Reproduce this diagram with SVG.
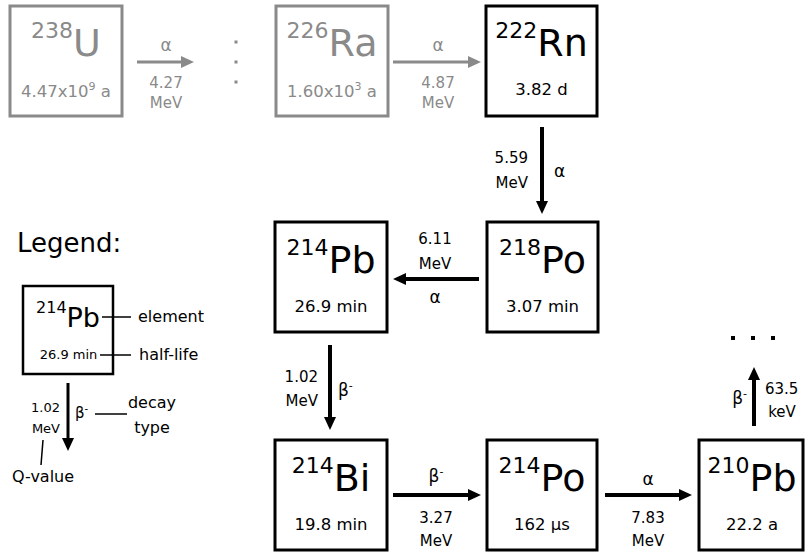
<svg xmlns="http://www.w3.org/2000/svg" width="805" height="554" viewBox="0 0 805 554">
<defs>
<style>
text{font-family:"DejaVu Sans","Liberation Sans",sans-serif;fill:#000}
.g{fill:#8a8a8a}
.box{fill:#fff;stroke:#000;stroke-width:3}
.gbox{fill:#fff;stroke:#8a8a8a;stroke-width:3}
.el{font-size:38px}
.sup{font-size:22px}
.hl{font-size:16.5px;text-anchor:middle}
.lab{font-size:15px;text-anchor:middle}
.lr{font-size:15px;text-anchor:end}
.ll{font-size:15px;text-anchor:start}
.al{font-size:17px}
.arr{stroke:#000;stroke-width:4;fill:none;marker-end:url(#ah)}
.garr{stroke:#8a8a8a;stroke-width:3;fill:none;marker-end:url(#gah)}
.thin{stroke:#000;stroke-width:1.5;fill:none}
.leg{font-size:16px}
</style>
<marker id="ah" viewBox="0 0 13 12" refX="4" refY="6" markerWidth="13" markerHeight="12" orient="auto" markerUnits="userSpaceOnUse"><path d="M0,0 L13,6 L0,12 z" fill="#000"/></marker>
<marker id="gah" viewBox="0 0 13 12" refX="4" refY="6" markerWidth="13" markerHeight="12" orient="auto" markerUnits="userSpaceOnUse"><path d="M0,0 L13,6 L0,12 z" fill="#8a8a8a"/></marker>
</defs>

<g id="U238">
<rect class="gbox" x="10" y="6" width="112" height="110"/>
<text class="g" x="66" y="56" text-anchor="middle"><tspan class="sup" dy="-18">238</tspan><tspan class="el" dy="18">U</tspan></text>
<text class="hl g" x="66" y="97">4.47x10<tspan font-size="11" dy="-7">9</tspan><tspan dy="7"> a</tspan></text>
</g>

<g id="Ra226">
<rect class="gbox" x="276" y="6" width="112" height="110"/>
<text class="g" x="332" y="56" text-anchor="middle"><tspan class="sup" dy="-18">226</tspan><tspan class="el" dy="18">Ra</tspan></text>
<text class="hl g" x="332" y="97">1.60x10<tspan font-size="11" dy="-7">3</tspan><tspan dy="7"> a</tspan></text>
</g>

<g id="Rn222">
<rect class="box" x="486" y="6" width="111" height="110"/>
<text x="541.5" y="56" text-anchor="middle"><tspan class="sup" dy="-18">222</tspan><tspan class="el" dy="18">Rn</tspan></text>
<text class="hl" x="541.5" y="95">3.82 d</text>
</g>

<g id="Po218">
<rect class="box" x="487" y="222" width="111" height="110"/>
<text x="542.5" y="273" text-anchor="middle"><tspan class="sup" dy="-18">218</tspan><tspan class="el" dy="18">Po</tspan></text>
<text class="hl" x="542.5" y="312">3.07 min</text>
</g>

<g id="Pb214">
<rect class="box" x="275" y="222" width="112" height="110"/>
<text x="331" y="273" text-anchor="middle"><tspan class="sup" dy="-18">214</tspan><tspan class="el" dy="18">Pb</tspan></text>
<text class="hl" x="331" y="312">26.9 min</text>
</g>

<g id="Bi214">
<rect class="box" x="275" y="440" width="112" height="110"/>
<text x="331" y="491" text-anchor="middle"><tspan class="sup" dy="-18">214</tspan><tspan class="el" dy="18">Bi</tspan></text>
<text class="hl" x="331" y="530">19.8 min</text>
</g>

<g id="Po214">
<rect class="box" x="487" y="440" width="110" height="110"/>
<text x="542" y="491" text-anchor="middle"><tspan class="sup" dy="-18">214</tspan><tspan class="el" dy="18">Po</tspan></text>
<text class="hl" x="542" y="530">162 μs</text>
</g>

<g id="Pb210">
<rect class="box" x="699" y="440" width="104" height="110"/>
<text x="752" y="491" text-anchor="middle"><tspan class="sup" dy="-18">210</tspan><tspan class="el" dy="18">Pb</tspan></text>
<text class="hl" x="752" y="530">22.2 a</text>
</g>

<g id="connectors">
<line class="garr" x1="137" y1="62" x2="185" y2="62"/>
<text class="lab al g" x="166" y="51">α</text>
<text class="lab g" x="166" y="88">4.27</text>
<text class="lab g" x="166" y="108">MeV</text>
<g fill="#8a8a8a"><rect x="234.5" y="40.5" width="3" height="3"/><rect x="234.5" y="60.5" width="3" height="3"/><rect x="234.5" y="80.5" width="3" height="3"/></g>

<line class="garr" x1="393" y1="62" x2="472" y2="62"/>
<text class="lab al g" x="438" y="51">α</text>
<text class="lab g" x="438" y="88">4.87</text>
<text class="lab g" x="438" y="108">MeV</text>

<line class="arr" x1="542" y1="127" x2="542" y2="205"/>
<text class="lr" x="528" y="163">5.59</text>
<text class="lr" x="528" y="188">MeV</text>
<text class="ll al" x="554" y="177">α</text>

<line class="arr" x1="479" y1="279" x2="402" y2="279"/>
<text class="lab" x="435" y="244">6.11</text>
<text class="lab" x="435" y="269">MeV</text>
<text class="lab al" x="435" y="303">α</text>

<line class="arr" x1="330" y1="345" x2="330" y2="421"/>
<text class="lr" x="318" y="382">1.02</text>
<text class="lr" x="318" y="406">MeV</text>
<text class="ll al" x="338" y="396">β<tspan font-size="11" dy="-7">-</tspan></text>

<line class="arr" x1="393" y1="495" x2="472" y2="495"/>
<text class="lab al" x="436" y="482">β<tspan font-size="11" dy="-7">-</tspan></text>
<text class="lab" x="436" y="523">3.27</text>
<text class="lab" x="436" y="546">MeV</text>

<line class="arr" x1="605" y1="495" x2="683" y2="495"/>
<text class="lab al" x="648" y="485">α</text>
<text class="lab" x="648" y="523">7.83</text>
<text class="lab" x="648" y="546">MeV</text>

<line class="arr" x1="754" y1="426" x2="754" y2="376"/>
<text class="lr al" x="747" y="404">β<tspan font-size="11" dy="-7">-</tspan></text>
<text class="ll" x="765" y="394">63.5</text>
<text class="lab" x="782" y="417">keV</text>
<g fill="#000"><rect x="731" y="336" width="4" height="4"/><rect x="751" y="336" width="4" height="4"/><rect x="771" y="336" width="4" height="4"/></g>
</g>

<g id="legend">
<text x="17" y="252" font-size="26">Legend:</text>
<rect x="23" y="286" width="90" height="88" fill="#fff" stroke="#000" stroke-width="2.5"/>
<text x="68" y="327" text-anchor="middle"><tspan font-size="16" dy="-14">214</tspan><tspan font-size="27" dy="14">Pb</tspan></text>
<text x="68.5" y="359" font-size="13" text-anchor="middle">26.9 min</text>
<line class="thin" x1="102" y1="317" x2="131" y2="317"/>
<text class="leg" x="138" y="322">element</text>
<line class="thin" x1="100" y1="355" x2="131" y2="355"/>
<text class="leg" x="139" y="360">half-life</text>
<line x1="68" y1="383" x2="68" y2="442" stroke="#000" stroke-width="3" marker-end="url(#ah)"/>
<text x="60" y="412" font-size="13" text-anchor="end">1.02</text>
<text x="60" y="433" font-size="13" text-anchor="end">MeV</text>
<text x="75" y="418" font-size="15">β<tspan font-size="10" dy="-6">-</tspan></text>
<line class="thin" x1="95" y1="414" x2="127" y2="414"/>
<text class="leg" x="152" y="408" text-anchor="middle">decay</text>
<text class="leg" x="152" y="433" text-anchor="middle">type</text>
<line class="thin" x1="43" y1="440" x2="41" y2="465"/>
<text class="leg" x="12" y="482">Q-value</text>
</g>
</svg>
